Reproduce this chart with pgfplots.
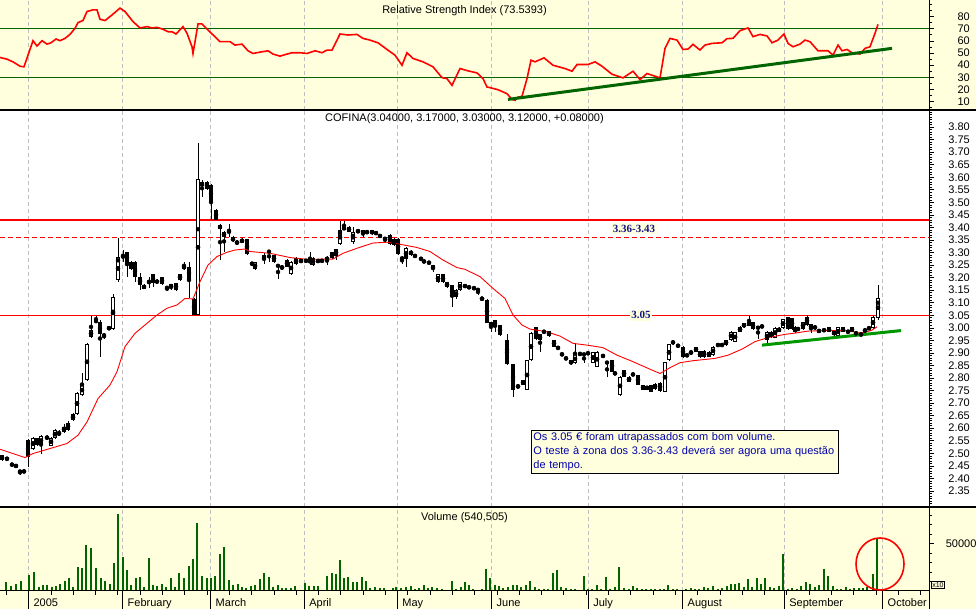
\documentclass[border=0pt]{standalone}
\usepackage{fontspec}
\setmainfont{Liberation Sans}
\newfontfamily\serifb{Liberation Serif}
\usepackage{pgfplots}
\pgfplotsset{compat=1.18}
\usepackage{pgfplotstable}
\definecolor{bgy}{RGB}{255,255,222}
\definecolor{gridc}{RGB}{190,190,190}
\definecolor{dkg}{RGB}{0,100,0}
\definecolor{trg}{RGB}{0,150,0}
\definecolor{navy}{RGB}{20,20,130}
\definecolor{txtb}{RGB}{0,0,170}
\newcommand\lab{\fontsize{11}{13}\selectfont}

% white (rising) candles: x open high low close
\pgfplotstableread{
x o h l c
33 2.516 2.565 2.512 2.561
41 2.532 2.571 2.499 2.569
51 2.530 2.563 2.528 2.561
55 2.561 2.595 2.558 2.592
59 2.572 2.592 2.570 2.585
64 2.585 2.615 2.580 2.605
68 2.592 2.630 2.590 2.621
73 2.632 2.660 2.630 2.655
77 2.655 2.745 2.652 2.742
82 2.732 2.818 2.730 2.772
87 2.794 2.938 2.790 2.935
91 2.962 3.049 2.958 2.992
109 2.995 3.004 2.993 3.002
113 2.995 3.135 2.993 3.123
118 3.189 3.357 3.181 3.284
171 3.160 3.175 3.150 3.173
180 3.191 3.216 3.188 3.213
184 3.233 3.264 3.230 3.250
198 3.050 3.736 3.050 3.592
202 3.566 3.590 3.523 3.580
224 3.361 3.385 3.304 3.381
237 3.333 3.350 3.330 3.346
242 3.340 3.356 3.336 3.353
255 3.233 3.263 3.230 3.261
282 3.233 3.250 3.231 3.248
291 3.213 3.266 3.210 3.264
313 3.250 3.282 3.248 3.280
327 3.266 3.286 3.250 3.284
336 3.288 3.316 3.270 3.314
340 3.333 3.426 3.330 3.389
353 3.341 3.400 3.333 3.381
358 3.381 3.391 3.379 3.389
406 3.273 3.322 3.244 3.320
438 3.181 3.215 3.177 3.213
447 3.161 3.184 3.158 3.181
456 3.121 3.153 3.115 3.151
460 3.151 3.184 3.148 3.181
482 3.111 3.123 3.109 3.121
491 3.003 3.024 2.984 3.022
518 2.761 2.774 2.759 2.772
527 2.754 2.872 2.752 2.870
531 2.870 2.982 2.868 2.980
540 2.951 2.976 2.905 2.974
575 2.858 2.938 2.856 2.894
593 2.861 2.904 2.859 2.902
597 2.845 2.907 2.843 2.905
620 2.732 2.807 2.730 2.805
629 2.785 2.807 2.783 2.805
651 2.745 2.774 2.743 2.772
665 2.745 2.864 2.743 2.862
669 2.871 2.936 2.869 2.934
691 2.894 2.911 2.892 2.909
700 2.882 2.909 2.880 2.907
704 2.882 2.911 2.880 2.909
709 2.885 2.907 2.883 2.905
713 2.891 2.927 2.889 2.925
726 2.931 2.953 2.929 2.951
731 2.951 2.986 2.949 2.984
735 2.945 2.984 2.943 2.982
740 2.984 3.006 2.982 3.004
744 3.002 3.020 3.000 3.018
749 3.008 3.049 3.006 3.024
767 2.951 2.986 2.938 2.984
775 2.961 3.002 2.959 3.000
779 2.984 3.002 2.982 3.000
783 2.998 3.037 2.996 3.035
803 2.995 3.024 2.993 3.022
811 2.995 3.016 2.980 3.014
838 2.969 3.004 2.967 3.002
865 2.984 2.997 2.982 2.995
873 2.998 3.046 2.996 3.044
878 3.040 3.170 3.030 3.120
}\upc

% black (falling) candles and dojis: x open high low close
\pgfplotstableread{
x o h l c
2 2.492 2.495 2.470 2.475
7 2.479 2.486 2.470 2.478
12 2.459 2.462 2.448 2.450
16 2.450 2.452 2.447 2.449
20 2.432 2.435 2.413 2.423
24 2.432 2.435 2.420 2.424
28 2.552 2.555 2.446 2.486
37 2.559 2.561 2.530 2.532
47 2.569 2.571 2.553 2.556
96 3.031 3.049 3.020 3.022
100 3.024 3.030 2.885 2.974
104 2.976 2.978 2.955 2.965
123 3.284 3.310 3.264 3.283
127 3.301 3.304 3.204 3.257
131 3.264 3.266 3.232 3.234
135 3.264 3.266 3.184 3.204
140 3.204 3.217 3.151 3.171
144 3.171 3.173 3.153 3.155
149 3.184 3.204 3.160 3.183
153 3.213 3.215 3.164 3.177
157 3.191 3.193 3.175 3.177
162 3.201 3.204 3.170 3.173
167 3.164 3.167 3.145 3.155
176 3.177 3.180 3.148 3.151
189 3.244 3.264 3.117 3.193
194 3.115 3.120 3.050 3.050
207 3.580 3.585 3.550 3.554
211 3.570 3.572 3.430 3.500
216 3.470 3.472 3.428 3.430
220 3.410 3.413 3.270 3.394
229 3.383 3.413 3.360 3.382
233 3.361 3.365 3.340 3.344
247 3.353 3.355 3.290 3.293
252 3.261 3.263 3.248 3.250
264 3.290 3.297 3.253 3.270
269 3.304 3.306 3.264 3.303
274 3.290 3.292 3.259 3.261
278 3.250 3.252 3.193 3.244
287 3.270 3.273 3.241 3.244
296 3.280 3.282 3.250 3.253
301 3.267 3.270 3.262 3.266
306 3.273 3.275 3.259 3.261
310 3.265 3.301 3.250 3.264
318 3.267 3.270 3.262 3.266
322 3.273 3.275 3.259 3.261
332 3.301 3.303 3.275 3.277
344 3.402 3.426 3.388 3.390
349 3.402 3.404 3.381 3.383
363 3.389 3.391 3.360 3.373
367 3.382 3.386 3.376 3.381
372 3.389 3.391 3.371 3.373
376 3.382 3.384 3.371 3.373
380 3.370 3.372 3.360 3.362
385 3.360 3.362 3.340 3.350
390 3.370 3.372 3.330 3.333
394 3.354 3.356 3.328 3.330
398 3.354 3.356 3.290 3.293
402 3.282 3.285 3.253 3.272
411 3.308 3.310 3.288 3.290
415 3.287 3.290 3.283 3.286
421 3.280 3.282 3.268 3.270
424 3.265 3.268 3.261 3.264
429 3.262 3.264 3.255 3.257
433 3.250 3.252 3.224 3.233
443 3.213 3.215 3.177 3.181
452 3.169 3.172 3.084 3.121
465 3.167 3.170 3.163 3.166
469 3.168 3.170 3.153 3.155
474 3.161 3.163 3.153 3.155
478 3.152 3.155 3.131 3.151
487 3.111 3.113 3.018 3.020
495 3.030 3.032 2.984 3.003
500 3.011 3.013 2.969 2.971
507 2.951 2.974 2.852 2.854
513 2.854 2.856 2.725 2.754
523 2.792 2.794 2.772 2.774
536 3.002 3.004 2.952 2.954
544 2.985 2.990 2.978 2.984
549 2.987 2.989 2.965 2.967
554 2.951 2.953 2.923 2.925
558 2.925 2.927 2.913 2.915
562 2.895 2.897 2.891 2.894
566 2.879 2.881 2.875 2.878
571 2.871 2.873 2.852 2.854
580 2.901 2.903 2.889 2.891
584 2.895 2.898 2.858 2.894
588 2.899 2.901 2.896 2.898
603 2.891 2.893 2.883 2.885
607 2.862 2.864 2.805 2.861
612 2.871 2.873 2.823 2.825
615 2.819 2.825 2.812 2.818
624 2.831 2.833 2.803 2.805
633 2.815 2.817 2.811 2.814
638 2.811 2.813 2.772 2.774
643 2.772 2.774 2.752 2.754
647 2.768 2.770 2.752 2.754
655 2.778 2.780 2.754 2.756
660 2.782 2.784 2.746 2.748
673 2.949 2.951 2.933 2.935
678 2.929 2.931 2.926 2.928
683 2.925 2.927 2.881 2.883
687 2.891 2.893 2.888 2.890
696 2.922 2.924 2.903 2.905
718 2.932 2.935 2.928 2.931
722 2.934 2.936 2.927 2.929
753 3.022 3.024 2.992 2.994
758 3.007 3.009 2.954 2.994
762 3.008 3.010 3.001 3.003
771 2.984 2.986 2.960 2.962
788 3.042 3.044 2.992 2.994
792 3.038 3.040 2.993 2.995
795 3.004 3.006 2.980 2.982
798 2.996 2.998 2.992 2.995
807 3.042 3.050 3.009 3.011
815 3.008 3.010 2.993 2.995
819 2.991 2.993 2.982 2.984
824 2.991 2.993 2.988 2.990
829 3.002 3.004 2.982 2.984
834 2.987 2.989 2.969 2.971
843 3.002 3.004 2.982 2.984
848 2.987 2.989 2.980 2.982
852 3.002 3.004 2.982 2.984
856 2.979 2.981 2.975 2.978
861 2.978 2.980 2.967 2.969
869 3.002 3.004 2.993 2.995
}\dnc

\pgfplotstableread{
x m
0 2.516
25 2.483
33 2.499
50 2.519
67 2.539
78 2.572
87 2.625
98 2.718
110 2.772
117 2.825
125 2.925
135 2.978
147 3.018
157 3.051
167 3.078
177 3.091
185 3.117
193 3.115
200 3.184
208 3.250
217 3.284
227 3.301
235 3.310
245 3.314
250 3.304
270 3.297
290 3.280
307 3.273
333 3.274
343 3.297
357 3.317
373 3.338
387 3.341
400 3.333
417 3.320
430 3.304
443 3.270
457 3.240
465 3.233
480 3.204
493 3.157
505 3.117
513 3.051
522 3.011
530 2.995
547 2.984
560 2.967
573 2.938
587 2.931
603 2.921
617 2.891
633 2.865
650 2.835
660 2.818
670 2.841
680 2.861
693 2.869
715 2.878
728 2.891
742 2.915
755 2.945
768 2.961
785 2.974
795 2.979
808 2.987
828 2.989
848 2.989
858 2.980
865 2.982
872 2.991
877 3.004
}\ma

\pgfplotstableread{
x r
0 46.3
7 44.9
13 42.7
20 39.1
24 38.6
28 48.2
33 60.1
37 55.7
42 60.1
47 57.3
51 58.4
56 61.5
60 60.1
65 62.0
70 65.3
75 70.3
78 75.0
83 76.7
87 84.1
93 85.5
97 85.5
100 77.7
105 76.7
112 81.3
120 86.9
125 84.1
133 75.8
140 70.6
147 71.7
152 70.6
157 71.1
163 69.5
168 67.5
172 67.5
176 65.6
183 71.7
187 66.2
192 55.1
193 49.6
198 73.9
202 73.9
208 68.9
220 59.3
230 59.3
235 56.5
242 57.3
248 51.8
253 49.6
262 51.0
268 51.8
273 49.1
280 47.4
287 49.1
292 50.2
300 50.2
307 49.6
315 51.8
322 50.2
327 52.4
332 52.4
340 65.6
348 64.8
357 65.3
363 62.0
370 60.6
378 58.4
387 52.9
395 48.2
402 39.9
407 50.2
413 45.5
423 42.7
433 38.6
442 29.7
447 28.9
452 23.4
460 37.2
468 35.3
477 33.6
483 28.9
487 22.0
490 21.5
498 19.8
507 16.5
512 11.8
515 11.0
518 13.7
522 14.3
527 28.9
531 44.1
535 42.7
544 46.0
553 39.9
565 37.2
572 35.0
577 40.5
588 40.5
595 42.7
602 39.1
612 32.5
623 29.5
633 35.0
640 28.1
647 33.1
660 29.5
665 53.8
670 62.0
677 60.6
683 52.9
688 53.2
693 57.1
700 52.4
705 56.5
712 57.9
722 58.4
727 61.8
733 62.0
740 68.4
748 70.6
753 63.4
760 65.3
767 64.0
772 58.4
778 60.6
784 65.6
788 57.9
793 55.1
800 57.3
805 60.6
810 59.3
818 51.8
828 51.8
833 48.2
838 56.5
842 51.8
847 52.9
852 50.2
857 49.6
860 49.1
865 53.8
870 55.1
875 66.2
878 73.5
}\rsi

\pgfplotstableread{
x v
6 9200
11 5300
16 7700
21 10600
29 16900
34 19700
39 4200
43 6000
47 6300
52 4200
56 5300
60 7400
65 10600
69 13700
73 4200
78 25000
82 24600
86 48600
91 45100
96 24600
101 13400
105 10600
110 7700
114 29900
118 81000
123 35600
127 22500
131 6000
136 14100
140 14800
144 3900
149 34500
153 6300
157 4900
162 7700
166 3900
171 13700
175 4200
179 18700
184 14100
189 26000
193 33400
197 71500
202 15500
207 13400
211 14100
215 15500
220 38700
224 46800
229 11300
233 6000
238 7700
242 4200
246 3500
251 5300
255 6300
260 12700
264 18700
269 14800
273 4200
278 6300
282 3200
286 2800
291 3500
295 5600
305 8100
309 5300
314 5300
318 4900
327 15500
332 19000
336 17600
340 32400
344 14100
348 14400
353 9200
357 9500
362 14800
366 10200
370 3500
375 4200
380 3200
384 2800
393 2800
396 4200
401 3200
406 4600
411 5300
415 2100
419 3200
424 6000
428 3500
432 4600
437 3500
442 2100
452 10200
456 2500
461 4600
465 9500
469 6300
473 2100
477 1400
482 2100
486 22900
490 13400
495 6300
499 4900
503 3500
508 3900
513 6000
517 6300
521 4200
526 6300
530 10200
535 3900
539 2100
544 2500
548 2500
553 18700
557 21800
561 4200
566 2800
571 2100
575 1800
584 15800
588 2100
592 2100
597 6300
601 1800
606 15100
610 2100
615 4600
619 25300
624 2800
629 1800
633 4900
637 2800
642 2100
646 1800
651 2500
655 2100
660 2100
664 2500
668 6000
673 2100
677 1800
686 2500
691 2800
695 2100
699 2500
704 4600
708 2800
713 5600
718 2100
722 2800
727 4900
731 7400
735 7700
739 8400
744 3900
748 12700
752 4600
757 13700
761 7400
765 14100
770 4200
774 3200
779 5600
783 39400
788 2100
792 3200
797 2500
801 4900
806 9500
810 7000
815 4200
819 6300
824 23200
828 15800
833 4900
837 2100
841 2100
846 3900
850 2500
854 2800
859 3500
863 2800
867 3900
873 17600
877 55600
}\vol

\pgfplotsset{
  panel/.style={
    scale only axis, width=929pt, xmin=0, xmax=929,
    axis line style={draw=none},
    xtick={28.5,122.7,210.7,304.3,397.3,491.7,588.3,682.7,784.3,882.7},
    xmajorgrids,
    major grid style={gridc, line width=0.8pt, dash pattern=on 4pt off 3pt},
    xtick style={draw=none},
    ytick pos=right, yticklabel pos=right,
    tick align=outside, major tick length=5pt, minor tick length=3pt,
    ytick style={black, line width=0.6pt},
    tick label style={font=\lab},
    /pgf/number format/assume math mode=true,
    yticklabel style={anchor=west, text width=24pt, align=right, xshift=8.3pt},
    title style={font=\lab, at={(0.5,1)}, anchor=center},
  },
}

\begin{document}
\begin{tikzpicture}
\useasboundingbox (0pt,0pt) rectangle (976pt,609pt);
\fill[bgy] (0pt,499pt) rectangle (976pt,609pt);
\fill[white] (0pt,102pt) rectangle (976pt,499pt);
\fill[bgy] (0pt,0pt) rectangle (976pt,102pt);

% ---------------- RSI ----------------
\begin{axis}[panel, at={(0pt,499pt)}, anchor=south west, height=110pt,
  ymin=3.1, ymax=93.6, ytick={10,20,30,40,50,60,70,80},
  minor ytick={5,10,...,90}, xticklabels={},
  title={Relative Strength Index (73.5393)}, title style={yshift=-16.7pt}]
\addplot[dkg, line width=1.2pt] coordinates {(0,70) (929,70)};
\addplot[dkg, line width=1.2pt] coordinates {(0,30) (929,30)};
\addplot[red, line width=1.6pt] table[x=x, y=r] {\rsi};
\addplot[dkg, line width=3pt] coordinates {(508,11.8) (892,53.8)};
\end{axis}

% ---------------- Price ----------------
\begin{axis}[panel, at={(0pt,102pt)}, anchor=south west, height=397pt,
  ymin=2.286, ymax=3.868,
  ytick={2.35,2.40,2.45,2.50,2.55,2.60,2.65,2.70,2.75,2.80,2.85,2.90,2.95,3.00,3.05,3.10,3.15,3.20,3.25,3.30,3.35,3.40,3.45,3.50,3.55,3.60,3.65,3.70,3.75,3.80},
  minor ytick={2.29,2.30,...,3.86}, xticklabels={},
  yticklabel style={/pgf/number format/.cd, fixed, fixed zerofill, precision=2},
  title={COFINA(3.04000, 3.17000, 3.03000, 3.12000, +0.08000)}, title style={yshift=-15pt}]
\addplot[red, line width=1.2pt] coordinates {(0,3.43) (929,3.43)};
\addplot[red, line width=1.2pt, dash pattern=on 5pt off 3pt] coordinates {(0,3.36) (929,3.36)};
\addplot[red, line width=1.2pt] coordinates {(0,3.05) (929,3.05)};
% wicks
\addplot[only marks, mark=none, forget plot, error bars/.cd, y dir=both, y explicit, error mark=none,
  error bar style={black, solid, line width=1pt}]
  table[x=x, y expr={(\thisrow{h}+\thisrow{l})/2}, y error expr={(\thisrow{h}-\thisrow{l})/2}] {\dnc};
\addplot[only marks, mark=none, forget plot, error bars/.cd, y dir=both, y explicit, error mark=none,
  error bar style={black, solid, line width=1pt}]
  table[x=x, y expr={(\thisrow{h}+\thisrow{l})/2}, y error expr={(\thisrow{h}-\thisrow{l})/2}] {\upc};
% bodies
\addplot[only marks, mark=none, forget plot, error bars/.cd, y dir=both, y explicit, error mark=none,
  error bar style={black, solid, line width=4.6pt}]
  table[x=x, y expr={(\thisrow{o}+\thisrow{c})/2}, y error expr={max(abs(\thisrow{o}-\thisrow{c})/2,0.002)}] {\dnc};
\addplot[only marks, mark=none, forget plot, error bars/.cd, y dir=both, y explicit, error mark=none,
  error bar style={black, solid, line width=4.6pt}]
  table[x=x, y expr={(\thisrow{o}+\thisrow{c})/2}, y error expr={max(abs(\thisrow{o}-\thisrow{c})/2,0.002)}] {\upc};
\addplot[only marks, mark=none, forget plot, error bars/.cd, y dir=both, y explicit, error mark=none,
  error bar style={white, solid, line width=2.6pt}]
  table[x=x, y expr={(\thisrow{o}+\thisrow{c})/2}, y error expr={max((\thisrow{c}-\thisrow{o})/2-0.004,0)}] {\upc};
% moving average
\addplot[red, line width=0.9pt] table[x=x, y=m] {\ma};
% trend line
\addplot[trg, line width=3pt] coordinates {(762,2.931) (901,2.989)};
\node[fill=bgy, text=navy, font=\serifb\bfseries\fontsize{11}{13}\selectfont, inner sep=1.5pt] at (axis cs:634,3.396) {3.36-3.43};
\node[fill=bgy, text=navy, font=\serifb\bfseries\fontsize{11}{13}\selectfont, inner sep=1.5pt] at (axis cs:641,3.05) {3.05};
\node[draw=black, line width=0.8pt, fill=bgy, text=txtb, anchor=north west, align=left,
  font=\fontsize{11}{14.3}\selectfont, inner xsep=2pt, inner ysep=2pt, text width=303pt]
  at (axis cs:531,2.593) {Os 3.05 € foram utrapassados com bom volume.\\O teste à zona dos 3.36-3.43 deverá ser agora uma questão\\de tempo.};
\end{axis}

% ---------------- Volume ----------------
\begin{axis}[panel, at={(0pt,18pt)}, anchor=south west, height=84pt,
  ymin=0, ymax=88800, ytick={50000}, minor ytick={10000,20000,...,80000},
  scaled y ticks=false,
  yticklabel style={/pgf/number format/.cd, fixed, 1000 sep={}},
  xticklabels={2005,February,March,April,May,June,July,August,September,October},
  xticklabel style={anchor=base west, text width=, align=left, xshift=1.5pt, yshift=-11pt},
  title={Volume (540,505)}, title style={yshift=-16.7pt}]
\addplot[ycomb, dkg, line width=2pt] table[x=x, y=v] {\vol};
\end{axis}

% frame lines and decorations
\draw[black, line width=1.2pt] (0pt,499pt) -- (976pt,499pt);
\draw[black, line width=1.2pt] (0pt,102pt) -- (976pt,102pt);
\draw[black, line width=1pt] (0pt,18pt) -- (929.5pt,18pt);
\draw[black, line width=1pt] (929.5pt,0pt) -- (929.5pt,609pt);
\foreach \m in {28.5,122.7,210.7,304.3,397.3,491.7,588.3,682.7,784.3,882.7}
  \draw[black, line width=0.8pt] (\m pt,0pt) -- (\m pt,18pt);
\foreach \w in {6.2,28.5,...,929}
  \draw[black, line width=0.6pt] (\w pt,18pt) -- (\w pt,14pt);
\draw[red, line width=1.6pt] (880pt,45pt) ellipse (24pt and 26pt);
\node[draw, line width=0.6pt, inner sep=1pt, font=\fontsize{7}{8}\selectfont, anchor=west] at (931pt,24pt) {x10};
\end{tikzpicture}
\end{document}
